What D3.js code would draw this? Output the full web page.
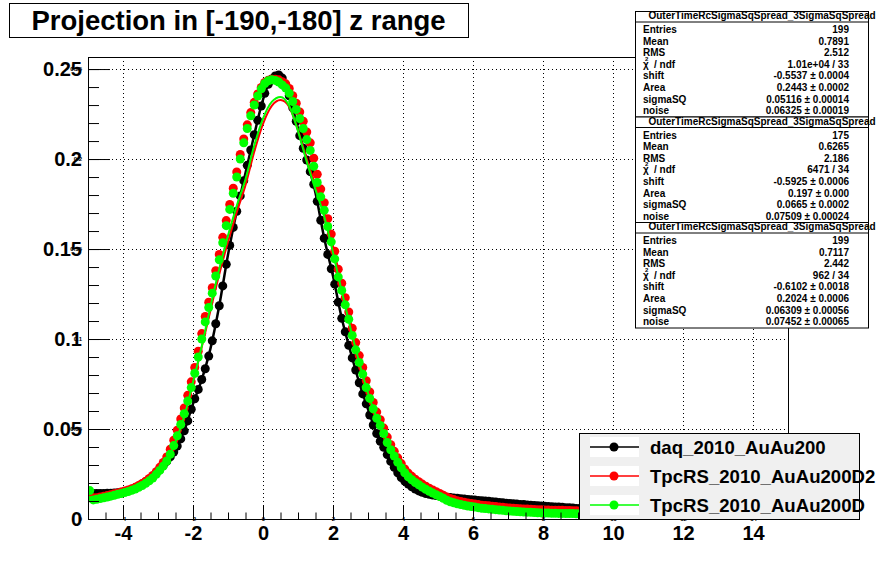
<!DOCTYPE html>
<html>
<head>
<meta charset="utf-8">
<script src="https://cdn.jsdelivr.net/npm/d3@7"></script>
<style>
body { margin: 0; background: #fff; }
text { font-family: "Liberation Sans", Arial, Helvetica, sans-serif; }
</style>
</head>
<body>
<svg id="chart" width="878" height="578"></svg>
<script>
// histogram bins: 0.1 wide starting at -5 (only the part not hidden by the legend)
const binLow = -5, binWidth = 0.1;

const daq = [
  0.0143, 0.0142, 0.0142, 0.0142, 0.0142, 0.0143, 0.0143, 0.0145, 0.0146, 0.0149,
  0.0153, 0.0158, 0.0165, 0.0173, 0.0183, 0.0195, 0.0207, 0.0220, 0.0236, 0.0255,
  0.0275, 0.0298, 0.0320, 0.0345, 0.0372, 0.0405, 0.0445, 0.0490, 0.0545, 0.0610,
  0.0668, 0.0720, 0.0775, 0.0835, 0.0905, 0.0990, 0.1085, 0.1185, 0.1295, 0.1415,
  0.1520, 0.1620, 0.1710, 0.1795, 0.1880, 0.1965, 0.2050, 0.2135, 0.2215, 0.2295,
  0.2365, 0.2415, 0.2445, 0.2462, 0.2467, 0.2450, 0.2408, 0.2352, 0.2285, 0.2210,
  0.2130, 0.2060, 0.1995, 0.1930, 0.1860, 0.1765, 0.1660, 0.1560, 0.1470, 0.1390,
  0.1305, 0.1205, 0.1115, 0.1040, 0.0965, 0.0895, 0.0828, 0.0757, 0.0695, 0.0640,
  0.0578, 0.0522, 0.0475, 0.0432, 0.0398, 0.0358, 0.0320, 0.0287, 0.0257, 0.0230,
  0.0211, 0.0194, 0.0179, 0.0166, 0.0156, 0.0148, 0.0142, 0.0137, 0.0133, 0.0130,
  0.0127, 0.0124, 0.0121, 0.0119, 0.0117, 0.0115, 0.0113, 0.0111, 0.0109, 0.0107,
  0.0105, 0.0103, 0.0102, 0.0100, 0.0098, 0.0096, 0.0094, 0.0092, 0.0090, 0.0088,
  0.0086, 0.0085, 0.0083, 0.0081, 0.0080, 0.0078, 0.0077, 0.0075, 0.0074, 0.0072,
  0.0071, 0.0069, 0.0068, 0.0067, 0.0066, 0.0065, 0.0063, 0.0062, 0.0061, 0.0059,
  0.0058
];

const tpcD2 = [
  0.0125, 0.0118, 0.0118, 0.0122, 0.0126, 0.0130, 0.0135, 0.0140, 0.0145, 0.0150,
  0.0155, 0.0161, 0.0168, 0.0176, 0.0186, 0.0197, 0.0210, 0.0225, 0.0242, 0.0263,
  0.0287, 0.0314, 0.0345, 0.0388, 0.0438, 0.0493, 0.0556, 0.0617, 0.0687, 0.0762,
  0.0842, 0.0932, 0.1030, 0.1125, 0.1205, 0.1285, 0.1380, 0.1470, 0.1565, 0.1658,
  0.1748, 0.1838, 0.1928, 0.2025, 0.2112, 0.2190, 0.2258, 0.2315, 0.2362, 0.2398,
  0.2425, 0.2438, 0.2443, 0.2443, 0.2440, 0.2430, 0.2418, 0.2392, 0.2352, 0.2310,
  0.2262, 0.2210, 0.2150, 0.2090, 0.2005, 0.1915, 0.1833, 0.1757, 0.1668, 0.1583,
  0.1488, 0.1388, 0.1310, 0.1230, 0.1150, 0.1060, 0.0980, 0.0908, 0.0842, 0.0768,
  0.0706, 0.0648, 0.0594, 0.0552, 0.0505, 0.0455, 0.0413, 0.0376, 0.0340, 0.0308,
  0.0278, 0.0255, 0.0237, 0.0221, 0.0207, 0.0194, 0.0182, 0.0171, 0.0161, 0.0152,
  0.0142, 0.0132, 0.0122, 0.0114, 0.0108, 0.0102, 0.0097, 0.0093, 0.0089, 0.0086,
  0.0083, 0.0080, 0.0077, 0.0075, 0.0073, 0.0071, 0.0069, 0.0067, 0.0065, 0.0063,
  0.0061, 0.0060, 0.0058, 0.0057, 0.0056, 0.0055, 0.0054, 0.0053, 0.0052, 0.0051,
  0.0050, 0.0050, 0.0049, 0.0049, 0.0048, 0.0048, 0.0047, 0.0047, 0.0046, 0.0046,
  0.0045
];

const tpcD = [
  0.0158, 0.0106, 0.0110, 0.0114, 0.0118, 0.0122, 0.0127, 0.0132, 0.0137, 0.0142,
  0.0147, 0.0153, 0.0160, 0.0167, 0.0176, 0.0186, 0.0198, 0.0212, 0.0228, 0.0248,
  0.0270, 0.0294, 0.0322, 0.0360, 0.0408, 0.0462, 0.0525, 0.0585, 0.0655, 0.0730,
  0.0810, 0.0900, 0.1000, 0.1095, 0.1175, 0.1255, 0.1350, 0.1440, 0.1535, 0.1630,
  0.1720, 0.1810, 0.1900, 0.2000, 0.2090, 0.2170, 0.2240, 0.2300, 0.2350, 0.2390,
  0.2420, 0.2435, 0.2440, 0.2437, 0.2428, 0.2412, 0.2395, 0.2365, 0.2320, 0.2275,
  0.2225, 0.2170, 0.2108, 0.2048, 0.1960, 0.1870, 0.1790, 0.1715, 0.1625, 0.1540,
  0.1445, 0.1345, 0.1270, 0.1190, 0.1110, 0.1020, 0.0940, 0.0870, 0.0805, 0.0730,
  0.0670, 0.0612, 0.0560, 0.0520, 0.0475, 0.0425, 0.0385, 0.0350, 0.0315, 0.0285,
  0.0257, 0.0235, 0.0218, 0.0203, 0.0190, 0.0177, 0.0165, 0.0154, 0.0144, 0.0135,
  0.0125, 0.0115, 0.0104, 0.0096, 0.0090, 0.0085, 0.0080, 0.0076, 0.0072, 0.0069,
  0.0066, 0.0063, 0.0060, 0.0058, 0.0056, 0.0054, 0.0052, 0.0050, 0.0048, 0.0046,
  0.0044, 0.0043, 0.0041, 0.0040, 0.0039, 0.0038, 0.0037, 0.0036, 0.0035, 0.0034,
  0.0033, 0.0033, 0.0032, 0.0032, 0.0031, 0.0031, 0.0030, 0.0030, 0.0030, 0.0029,
  0.0029
];

// fit curves, sampled every 0.25 from -5 to 9
const fitStep = 0.25;
const fitDaq = [
  0.0143, 0.0142, 0.0142, 0.0144, 0.0150, 0.0162, 0.0188, 0.0216,
  0.0265, 0.0320, 0.0388, 0.0490, 0.0640, 0.0775, 0.0948, 0.1185,
  0.1468, 0.1710, 0.1922, 0.2135, 0.2330, 0.2445, 0.2460, 0.2352,
  0.2170, 0.1995, 0.1812, 0.1560, 0.1350, 0.1115, 0.0930, 0.0757,
  0.0610, 0.0475, 0.0378, 0.0287, 0.0220, 0.0179, 0.0152, 0.0137,
  0.0128, 0.0121, 0.0116, 0.0111, 0.0106, 0.0102, 0.0097, 0.0092,
  0.0087, 0.0083, 0.0079, 0.0075, 0.0072, 0.0068, 0.0065, 0.0062, 0.0059
];
const fitD2 = [
  0.0122, 0.0119, 0.0127, 0.0139, 0.0152, 0.0168, 0.0190, 0.0222,
  0.0272, 0.0340, 0.0440, 0.0575, 0.0755, 0.0955, 0.1160, 0.1360,
  0.1540, 0.1705, 0.1855, 0.2040, 0.2195, 0.2295, 0.2328, 0.2290,
  0.2160, 0.2000, 0.1855, 0.1710, 0.1515, 0.1300, 0.1095, 0.0905,
  0.0735, 0.0590, 0.0478, 0.0375, 0.0292, 0.0232, 0.0200, 0.0172,
  0.0147, 0.0126, 0.0107, 0.0095, 0.0086, 0.0079, 0.0073, 0.0068,
  0.0063, 0.0060, 0.0057, 0.0054, 0.0052, 0.0050, 0.0049, 0.0047, 0.0046
];
const fitD = [
  0.0125, 0.0112, 0.0120, 0.0132, 0.0145, 0.0160, 0.0181, 0.0212,
  0.0258, 0.0322, 0.0430, 0.0570, 0.0760, 0.0960, 0.1180, 0.1390,
  0.1575, 0.1740, 0.1888, 0.2075, 0.2225, 0.2318, 0.2345, 0.2295,
  0.2155, 0.1985, 0.1830, 0.1680, 0.1480, 0.1265, 0.1060, 0.0870,
  0.0700, 0.0560, 0.0450, 0.0350, 0.0270, 0.0211, 0.0183, 0.0155,
  0.0130, 0.0108, 0.0088, 0.0076, 0.0067, 0.0061, 0.0055, 0.0050,
  0.0045, 0.0041, 0.0038, 0.0036, 0.0034, 0.0032, 0.0031, 0.0030, 0.0029
];

const xMajor = [-4, -2, 0, 2, 4, 6, 8, 10, 12, 14];
const yMajor = [0, 0.05, 0.1, 0.15, 0.2, 0.25];

const legendNames = ['daq_2010_AuAu200', 'TpcRS_2010_AuAu200D2', 'TpcRS_2010_AuAu200D'];
const seriesColors = ['#000000', '#ff0000', '#00ff00'];

const statTitle = 'OuterTimeRcSigmaSqSpread_3SigmaSqSpread';
const statNames = ['Entries', 'Mean', 'RMS', 'chi', 'shift', 'Area', 'sigmaSQ', 'noise'];
const stats1 = ['199', '0.7891', '2.512', '1.01e+04 / 33', '-0.5537 \u00b1 0.0004', '0.2443 \u00b1 0.0002', '0.05116 \u00b1 0.00014', '0.06325 \u00b1 0.00019'];
const stats2 = ['175', '0.6265', '2.186', '6471 / 34', '-0.5925 \u00b1 0.0006', '0.197 \u00b1 0.000', '0.0665 \u00b1 0.0002', '0.07509 \u00b1 0.00024'];
const stats3 = ['199', '0.7117', '2.442', '962 / 34', '-0.6102 \u00b1 0.0018', '0.2024 \u00b1 0.0006', '0.06309 \u00b1 0.00056', '0.07452 \u00b1 0.00065'];

const frame = { left: 88, right: 788, top: 57, bottom: 519 };

const svg = d3.select('#chart');
svg.append('rect').attr('width', 878).attr('height', 578).attr('fill', '#fff');

const x = d3.scaleLinear().domain([-5, 15]).range([frame.left, frame.right]);
const y = d3.scaleLinear().domain([0, 0.2567]).range([frame.bottom, frame.top]);

svg.append('clipPath').attr('id', 'frameClip')
  .append('rect')
  .attr('x', frame.left).attr('y', frame.top)
  .attr('width', frame.right - frame.left).attr('height', frame.bottom - frame.top);

// grid
const grid = svg.append('g').attr('stroke', '#000').attr('stroke-width', 1).attr('stroke-dasharray', '1,3');
grid.selectAll('.vg').data(xMajor).enter().append('line')
  .attr('x1', d => Math.round(x(d)) + 0.5).attr('x2', d => Math.round(x(d)) + 0.5)
  .attr('y1', frame.top).attr('y2', frame.bottom);
grid.selectAll('.hg').data(yMajor.filter(d => d > 0)).enter().append('line')
  .attr('y1', d => Math.round(y(d)) + 0.5).attr('y2', d => Math.round(y(d)) + 0.5)
  .attr('x1', frame.left).attr('x2', frame.right);

// data
const plot = svg.append('g').attr('clip-path', 'url(#frameClip)');
const allSeries = [
  { vals: daq, fit: fitDaq, color: seriesColors[0], lw: 2.5 },
  { vals: tpcD2, fit: fitD2, color: seriesColors[1], lw: 2 },
  { vals: tpcD, fit: fitD, color: seriesColors[2], lw: 2 }
];
const line = d3.line()
  .x((d, i) => x(-5 + i * fitStep))
  .y(d => y(d))
  .curve(d3.curveMonotoneX);

allSeries.forEach(s => {
  plot.append('g').selectAll('circle').data(s.vals).enter().append('circle')
    .attr('cx', (d, i) => x(binLow + (i + 0.5) * binWidth))
    .attr('cy', d => y(d))
    .attr('r', 4.5)
    .attr('fill', s.color);
  plot.append('path').datum(s.fit)
    .attr('d', line)
    .attr('fill', 'none')
    .attr('stroke', s.color)
    .attr('stroke-width', s.lw);
});

// axes
const fontBig = 20;
const xFmt = d => String(d);
const yFmt = d => d === 0 ? '0' : String(+d.toFixed(2));
const xAxisG = svg.append('g').attr('transform', `translate(0,${frame.bottom})`);
xAxisG.call(d3.axisBottom(x).tickValues(d3.range(-5, 15.01, 0.5)).tickSize(-6.5).tickFormat(''));
xAxisG.append('g').call(d3.axisBottom(x).tickValues(xMajor).tickSize(-13).tickPadding(7).tickFormat(xFmt));
xAxisG.append('g').call(d3.axisBottom(x).tickValues(xMajor).tickSize(0).tickPadding(-2.5).tickFormat(xFmt))
  .selectAll('text').attr('font-size', 6).attr('font-weight', 'bold');
xAxisG.selectAll('path.domain').remove();
xAxisG.selectAll('line').attr('stroke', '#000');

const yAxisG = svg.append('g').attr('transform', `translate(${frame.left},0)`);
yAxisG.call(d3.axisLeft(y).tickValues(d3.range(0, 0.2567, 0.01)).tickSize(-11).tickFormat(''));
yAxisG.append('g').call(d3.axisLeft(y).tickValues(yMajor).tickSize(-22).tickPadding(6).tickFormat(yFmt));
yAxisG.append('g').call(d3.axisLeft(y).tickValues(yMajor).tickSize(0).tickPadding(6).tickFormat(yFmt))
  .selectAll('text').attr('font-size', 6).attr('font-weight', 'bold');
yAxisG.selectAll('path.domain').remove();
yAxisG.selectAll('line').attr('stroke', '#000');

svg.selectAll('.tick text').filter(function () { return !this.getAttribute('font-size'); })
  .attr('font-size', fontBig).attr('font-weight', 'bold');
svg.selectAll('.tick text').attr('font-family', '"Liberation Sans", Arial, sans-serif').attr('fill', '#000');

// frame
svg.append('rect')
  .attr('x', frame.left + 0.5).attr('y', frame.top + 0.5)
  .attr('width', frame.right - frame.left).attr('height', frame.bottom - frame.top)
  .attr('fill', 'none').attr('stroke', '#000').attr('stroke-width', 1);

// stats boxes
function drawStats(top, values) {
  const g = svg.append('g');
  const left = 635.5, right = 868.5, h = 105.5;
  g.append('rect').attr('x', left).attr('y', top).attr('width', right - left).attr('height', h)
    .attr('fill', '#fff').attr('stroke', '#000');
  g.append('line').attr('x1', left).attr('x2', right).attr('y1', top + 10.5).attr('y2', top + 10.5).attr('stroke', '#000');
  g.append('text').attr('x', 762).attr('y', top + 7.6).attr('text-anchor', 'middle')
    .attr('font-size', 10).attr('font-weight', 'bold').text(statTitle);
  statNames.forEach((name, i) => {
    const by = top + 21.5 + i * 11.6;
    if (name === 'chi') {
      g.append('text').attr('x', 643).attr('y', by).attr('font-size', 10).attr('font-weight', 'bold').text('\u03c7');
      g.append('text').attr('x', 645).attr('y', by - 7).attr('font-size', 6).attr('font-weight', 'bold').text('2');
      g.append('text').attr('x', 654).attr('y', by).attr('font-size', 10).attr('font-weight', 'bold').text('/ ndf');
    } else {
      g.append('text').attr('x', 643).attr('y', by).attr('font-size', 10).attr('font-weight', 'bold').text(name);
    }
    g.append('text').attr('x', 849).attr('y', by).attr('text-anchor', 'end')
      .attr('font-size', 10).attr('font-weight', 'bold').text(values[i]);
  });
}
drawStats(11.5, stats1);
drawStats(117, stats2);
drawStats(222.5, stats3);

// legend
const lg = svg.append('g');
lg.append('rect').attr('x', 579.5).attr('y', 433.5).attr('width', 280).attr('height', 86)
  .attr('fill', '#f0f0f0').attr('stroke', '#000');
legendNames.forEach((name, i) => {
  const cy = 447 + i * 29;
  lg.append('rect').attr('x', 590).attr('y', cy - 10).attr('width', 49).attr('height', 20).attr('fill', '#fff');
  lg.append('line').attr('x1', 590).attr('x2', 639).attr('y1', cy).attr('y2', cy)
    .attr('stroke', seriesColors[i]).attr('stroke-width', 1.5);
  lg.append('circle').attr('cx', 614).attr('cy', cy).attr('r', 4.5).attr('fill', seriesColors[i]);
  lg.append('text').attr('x', 650).attr('y', cy + 7).attr('font-size', 18.6).attr('font-weight', 'bold').text(name);
});

// title
svg.append('rect').attr('x', 9.5).attr('y', 3.5).attr('width', 459).attr('height', 34)
  .attr('fill', '#fff').attr('stroke', '#000');
svg.append('text').attr('x', 238.5).attr('y', 29.5).attr('text-anchor', 'middle')
  .attr('font-size', 27.5).attr('font-weight', 'bold').text('Projection in [-190,-180] z range');
</script>
</body>
</html>
